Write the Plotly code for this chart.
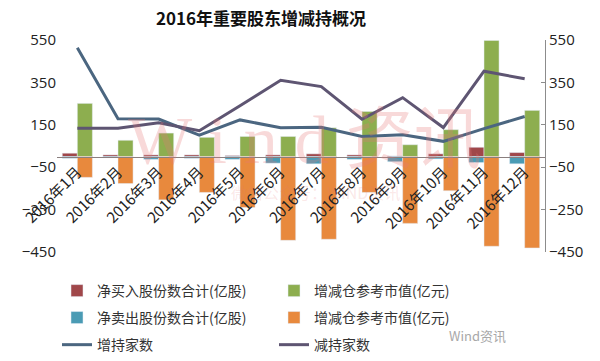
import plotly.graph_objects as go

months = ["2016年1月", "2016年2月", "2016年3月", "2016年4月", "2016年5月", "2016年6月",
          "2016年7月", "2016年8月", "2016年9月", "2016年10月", "2016年11月", "2016年12月"]
net_buy = [16, 8, 8, 8, 5, 8, 13, 8, 3, 13, 44, 19]
net_sell = [-8, -5, -13, -8, -13, -31, -34, -13, -24, -11, -28, -34]
value_pos = [251, 77, 111, 91, 95, 95, 136, 213, 56, 127, 548, 218]
value_neg = [-98, -127, -204, -169, -240, -395, -390, -169, -315, -161, -423, -431]
inc_count = [513, 179, 177, 101, 173, 136, 138, 95, 103, 72, 132, 189]
dec_count = [134, 134, 160, 122, 240, 360, 330, 176, 278, 137, 403, 367]
y_ticks = [550, 350, 150, -50, -250, -450]

FONT = "Noto Sans CJK SC"
fig = go.Figure()

fig.add_trace(go.Bar(x=months, y=net_buy, name="净买入股份数合计(亿股)", marker_color="#A0474A",
                     offsetgroup="a", legend="legend"))
fig.add_trace(go.Bar(x=months, y=value_pos, name="增减仓参考市值(亿元)", marker_color="#8DAE4F",
                     offsetgroup="b", legend="legend"))
fig.add_trace(go.Bar(x=months, y=net_sell, name="净卖出股份数合计(亿股)", marker_color="#4A9BB4",
                     offsetgroup="a", legend="legend2"))
fig.add_trace(go.Bar(x=months, y=value_neg, name="增减仓参考市值(亿元)", marker_color="#E8893D",
                     offsetgroup="b", legend="legend2"))
fig.add_trace(go.Scatter(x=months, y=inc_count, name="增持家数", mode="lines",
                         line=dict(color="#4B6680", width=3), yaxis="y2", legend="legend3"))
fig.add_trace(go.Scatter(x=months, y=dec_count, name="减持家数", mode="lines",
                         line=dict(color="#5E5572", width=3), yaxis="y2", legend="legend3"))

leg_common = dict(orientation="h", xanchor="left", yanchor="middle", x=0.0,
                  entrywidth=172, font=dict(family=FONT, size=14, color="#333333"),
                  bgcolor="rgba(0,0,0,0)")

fig.update_layout(
    width=600, height=361,
    margin=dict(l=57, r=55, t=40, b=109, autoexpand=False),
    paper_bgcolor="white", plot_bgcolor="white",
    font=dict(family=FONT, color="#222222"),
    title=dict(text="<b>2016年重要股东增减持概况</b>", x=0.435, xref="container", xanchor="center",
               y=1 - 19 / 361, yanchor="middle", font=dict(family=FONT, size=17, color="#111111")),
    barmode="group", bargap=0.26, bargroupgap=0,
    xaxis=dict(type="category", anchor="free", position=0.45, showline=True,
               linecolor="#8a7f7f", linewidth=1, ticks="", tickangle=-45,
               tickfont=dict(family=FONT, size=15, color="#222222"), showgrid=False, zeroline=False),
    yaxis=dict(range=[-450, 550], tickvals=y_ticks, showgrid=False, zeroline=False,
               showline=False, ticks="", tickfont=dict(family="Open Sans", size=15, color="#222222")),
    yaxis2=dict(range=[-450, 550], tickvals=y_ticks, overlaying="y", side="right",
                showgrid=False, zeroline=False, showline=True, linecolor="#8c8c8c",
                ticks="inside", ticklen=4, tickcolor="#8c8c8c",
                tickfont=dict(family="Open Sans", size=15, color="#222222")),
    legend=dict(**leg_common, y=-0.184),
    legend2=dict(**leg_common, y=-0.311),
    legend3=dict(**leg_common, y=-0.439),
)

# faint watermark and signature (paper coordinates)
fig.add_annotation(text="W i n d 资讯", xref="paper", yref="paper", xanchor="center", yanchor="middle",
                   x=(305 - 57) / 488, y=(252 - 140) / 212, showarrow=False,
                   font=dict(family="Liberation Serif, Noto Sans CJK SC", size=68,
                             color="rgba(230,120,120,0.28)"))
fig.add_annotation(text="微信公众号：WIND资讯", xref="paper", yref="paper", xanchor="center",
                   yanchor="middle", x=(315 - 57) / 488, y=(252 - 192) / 212, showarrow=False,
                   font=dict(family=FONT, size=16, color="rgba(230,120,120,0.18)"))
fig.add_annotation(text="Wind资讯", xref="paper", yref="paper", xanchor="center", yanchor="middle",
                   x=(477 - 57) / 488, y=(252 - 335) / 212, showarrow=False,
                   font=dict(family=FONT, size=13, color="#a8a8a8"))

fig.write_html("out.html", post_script="document.body.style.margin='0';",
               config={"displayModeBar": False})
